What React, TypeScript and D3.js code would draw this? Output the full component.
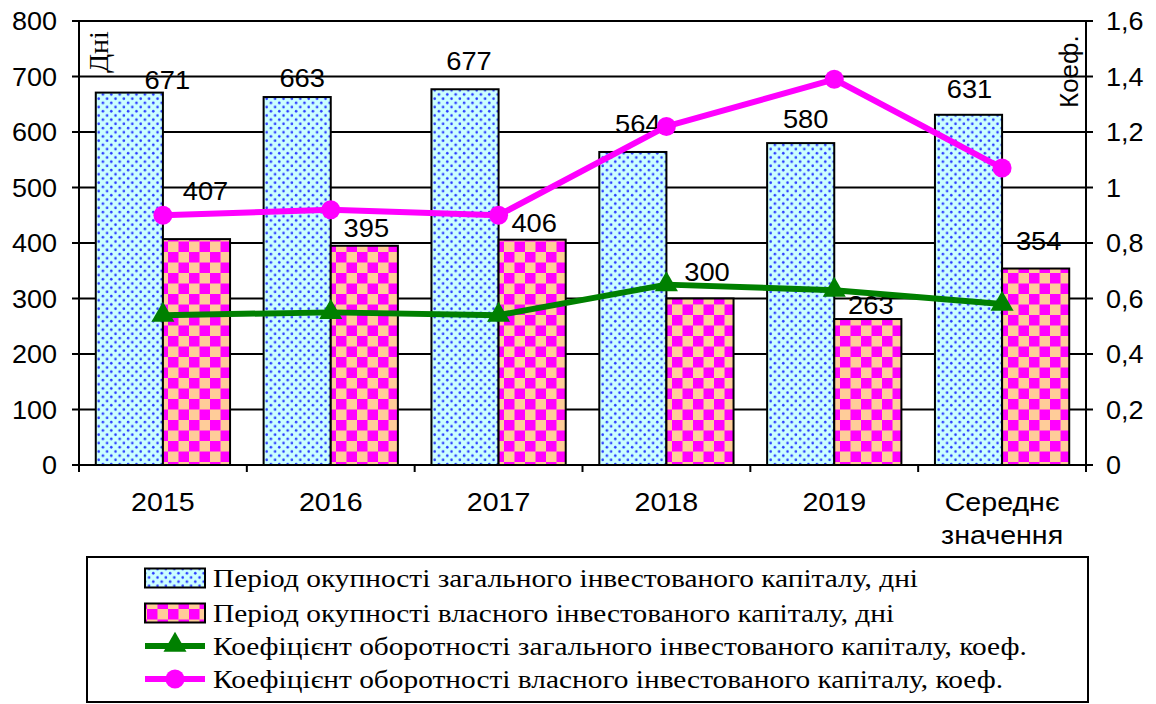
import React from 'react';
import * as d3 from 'd3';

const categoryLabels: string[][] = [['2015'], ['2016'], ['2017'], ['2018'], ['2019'], ['Середнє', 'значення']];
const totalDays = [671, 663, 677, 564, 580, 631];
const ownDays = [407, 395, 406, 300, 263, 354];
const totalCoef = [0.54, 0.55, 0.54, 0.65, 0.63, 0.58];
const ownCoef = [0.9, 0.92, 0.9, 1.22, 1.39, 1.07];
const leftTicks = [0, 100, 200, 300, 400, 500, 600, 700, 800];
const rightTicks = [0, 0.2, 0.4, 0.6, 0.8, 1, 1.2, 1.4, 1.6];
const legendLabels = [
  'Період окупності загального інвестованого капіталу, дні',
  'Період окупності власного інвестованого капіталу, дні',
  'Коефіцієнт оборотності загального інвестованого капіталу, коеф.',
  'Коефіцієнт оборотності власного інвестованого капіталу, коеф.',
];
// manual label nudges (dx, dy above bar top) as placed in the original
const totalLabelNudge = [[38, 4], [5, 10], [4, 19], [5, 19], [5, 15], [1, 17]];
const ownLabelNudge = [[9, 39], [2, 9], [2, 8], [7, 18], [3, 5], [3, 19]];

const SANS = '"Liberation Sans", Arial, sans-serif';
const SERIF = '"Liberation Serif", "Times New Roman", serif';

function T(props: { x: number; y: number; sx?: number; anchor?: string; family?: string; size?: number; children: React.ReactNode }) {
  const { x, y, sx = 1, anchor = 'start', family = SANS, size = 25, children } = props;
  return (
    <text transform={`translate(${x},${y}) scale(${sx},1)`} textAnchor={anchor} fontFamily={family} fontSize={size}>
      {children}
    </text>
  );
}

export default function App() {
  const W = 1156, H = 704;
  const left = 79, right = 1086, top = 21, bottom = 465;
  const idx = categoryLabels.map((_, i) => i);
  const x = d3.scaleBand<number>().domain(idx).range([left, right]).padding(0);
  const band = x.bandwidth();
  const bw = band / 2.5;
  const yL = d3.scaleLinear().domain([0, 800]).range([bottom, top]);
  const yR = d3.scaleLinear().domain([0, 1.6]).range([bottom, top]);
  const cx = (i: number) => (x(i) as number) + band / 2;

  const lineGen = d3.line<number>().x((_, i) => cx(i)).y((d) => yR(d));
  const fmtR = (v: number) => (v === 0 || v === 1 ? String(v) : d3.format('.1f')(v).replace('.', ','));
  const tri = d3.symbol().type(d3.symbolTriangle).size(230)();

  const legendRows = [587, 622, 655, 688];

  return (
    <svg width={W} height={H} style={{ position: 'absolute', left: 0, top: 0, background: '#fff' }}>
      <defs>
        <pattern id="dots" patternUnits="userSpaceOnUse" width={8.4} height={8.4}>
          <rect width={8.4} height={8.4} fill="#ccffff" />
          <circle cx={2.1} cy={2.1} r={1.3} fill="#2a3cff" />
          <circle cx={6.3} cy={6.3} r={1.3} fill="#2a3cff" />
        </pattern>
        <pattern id="check" patternUnits="userSpaceOnUse" width={21} height={21}>
          <rect width={21} height={21} fill="#ffcc99" />
          <rect width={10.5} height={10.5} fill="#ff00ff" />
          <rect x={10.5} y={10.5} width={10.5} height={10.5} fill="#ff00ff" />
        </pattern>
      </defs>

      {/* gridlines & left ticks */}
      {leftTicks.map((t) => (
        <g key={'g' + t}>
          <line x1={left - 7} x2={right} y1={yL(t)} y2={yL(t)} stroke="#000" strokeWidth={2} />
          <T x={57} y={yL(t) + 9} anchor="end" sx={1.08}>{t}</T>
        </g>
      ))}
      {rightTicks.map((t) => (
        <g key={'r' + t}>
          <line x1={right} x2={right + 7} y1={yR(t)} y2={yR(t)} stroke="#000" strokeWidth={2} />
          <T x={1106} y={yR(t) + 9} sx={1.08}>{fmtR(t)}</T>
        </g>
      ))}

      {/* bars */}
      {idx.map((i) => (
        <g key={'b' + i}>
          <rect x={cx(i) - bw} y={yL(totalDays[i])} width={bw} height={bottom - yL(totalDays[i])}
            fill="url(#dots)" stroke="#000" strokeWidth={2} />
          <rect x={cx(i)} y={yL(ownDays[i])} width={bw} height={bottom - yL(ownDays[i])}
            fill="url(#check)" stroke="#000" strokeWidth={2} />
        </g>
      ))}

      {/* axes */}
      <line x1={left} x2={left} y1={top} y2={bottom} stroke="#000" strokeWidth={2} />
      <line x1={right} x2={right} y1={top} y2={bottom} stroke="#000" strokeWidth={2} />
      <line x1={left} x2={right} y1={bottom} y2={bottom} stroke="#000" strokeWidth={2} />
      {[...idx, idx.length].map((i) => {
        const xx = left + band * i;
        return <line key={'xt' + i} x1={xx} x2={xx} y1={bottom} y2={bottom + 7} stroke="#000" strokeWidth={2} />;
      })}
      {idx.map((i) =>
        categoryLabels[i].map((s, k) => (
          <T key={'xl' + i + '-' + k} x={cx(i)} y={511 + k * 33} anchor="middle" size={26} sx={1.1}>{s}</T>
        ))
      )}

      {/* data labels */}
      {idx.map((i) => (
        <g key={'dl' + i}>
          <T x={cx(i) - bw / 2 + totalLabelNudge[i][0]} y={yL(totalDays[i]) - totalLabelNudge[i][1]} anchor="middle" size={26} sx={1.05}>{totalDays[i]}</T>
          <T x={cx(i) + bw / 2 + ownLabelNudge[i][0]} y={yL(ownDays[i]) - ownLabelNudge[i][1]} anchor="middle" size={26} sx={1.05}>{ownDays[i]}</T>
        </g>
      ))}

      {/* lines */}
      <path d={lineGen(totalCoef) || ''} fill="none" stroke="#008000" strokeWidth={6} strokeLinejoin="round" />
      {totalCoef.map((v, i) => (
        <path key={'t' + i} d={tri || ''} transform={`translate(${cx(i)},${yR(v)})`} fill="#008000" />
      ))}
      <path d={lineGen(ownCoef) || ''} fill="none" stroke="#ff00ff" strokeWidth={6} strokeLinejoin="round" />
      {ownCoef.map((v, i) => (
        <circle key={'c' + i} cx={cx(i)} cy={yR(v)} r={9.5} fill="#ff00ff" />
      ))}

      {/* axis titles */}
      <text transform="translate(108,73) rotate(-90)" fontFamily={SERIF} fontSize={28}>Дні</text>
      <text transform="translate(1078,108) rotate(-90)" fontFamily={SANS} fontSize={26}>Коеф.</text>

      {/* legend */}
      <rect x={87} y={557} width={1001} height={145} fill="#fff" stroke="#000" strokeWidth={2} />
      <rect x={145} y={legendRows[0] - 18.5} width={60} height={19} fill="url(#dots)" stroke="#000" strokeWidth={2} />
      <rect x={145} y={legendRows[1] - 18.5} width={60} height={19} fill="url(#check)" stroke="#000" strokeWidth={2} />
      <line x1={145} x2={205} y1={legendRows[2] - 9} y2={legendRows[2] - 9} stroke="#008000" strokeWidth={6} />
      <path d={tri || ''} transform={`translate(175,${legendRows[2] - 10})`} fill="#008000" />
      <line x1={145} x2={205} y1={legendRows[3] - 9} y2={legendRows[3] - 9} stroke="#ff00ff" strokeWidth={6} />
      <circle cx={175} cy={legendRows[3] - 9} r={9.5} fill="#ff00ff" />
      {legendLabels.map((s, i) => (
        <T key={'lg' + i} x={213} y={legendRows[i]} family={SERIF} size={26} sx={1.13}>{s}</T>
      ))}
    </svg>
  );
}
